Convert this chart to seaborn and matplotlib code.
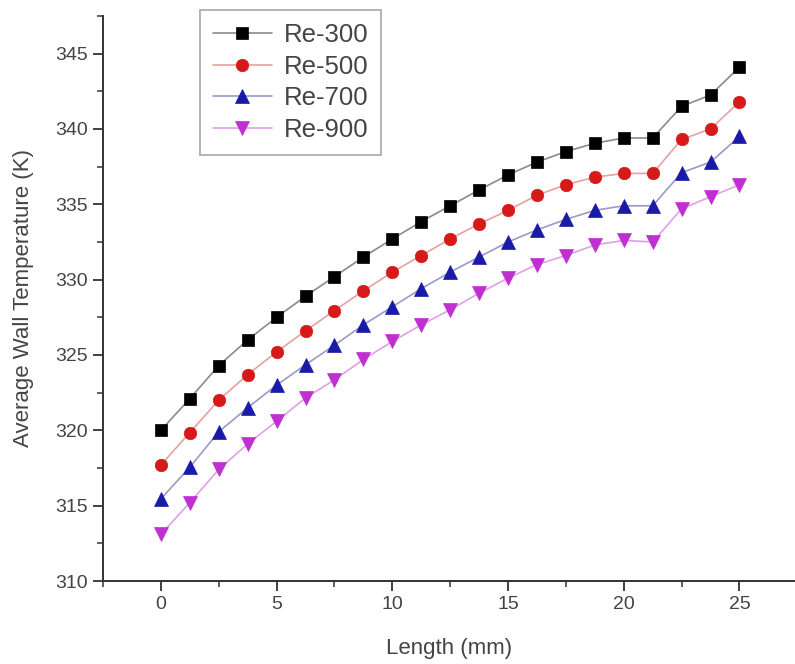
import pandas as pd
import numpy as np
import matplotlib
matplotlib.use('Agg')
import matplotlib.pyplot as plt
from matplotlib.ticker import MultipleLocator
import seaborn as sns

# Length positions (mm) along the channel
length_mm = [0, 1.25, 2.5, 3.75, 5, 6.25, 7.5, 8.75, 10, 11.25, 12.5,
             13.75, 15, 16.25, 17.5, 18.75, 20, 21.25, 22.5, 23.75, 25]

# Average wall temperature (K)
re_300 = [320.0, 322.1, 324.3, 326.0, 327.5, 328.9, 330.2, 331.5, 332.7, 333.85, 334.9,
          335.95, 336.95, 337.8, 338.5, 339.05, 339.4, 339.4, 341.5, 342.25, 344.1]
re_500 = [317.7, 319.85, 322.0, 323.7, 325.2, 326.6, 327.95, 329.25, 330.5, 331.6, 332.7,
          333.7, 334.6, 335.6, 336.3, 336.8, 337.05, 337.05, 339.3, 340.0, 341.8]
re_700 = [315.45, 317.55, 319.9, 321.5, 323.0, 324.35, 325.65, 327.0, 328.2, 329.4, 330.5,
          331.5, 332.5, 333.3, 334.0, 334.6, 334.9, 334.9, 337.1, 337.8, 339.5]
re_900 = [313.1, 315.2, 317.4, 319.1, 320.6, 322.15, 323.35, 324.7, 325.9, 327.0, 328.0,
          329.1, 330.1, 331.0, 331.6, 332.3, 332.6, 332.5, 334.7, 335.5, 336.3]

series_names = ['Re-300', 'Re-500', 'Re-700', 'Re-900']
series_values = [re_300, re_500, re_700, re_900]
marker_colors = ['#000000', '#d61a1a', '#1a1aa8', '#c030d0']
line_colors = ['#8a8a8a', '#e8a0a0', '#9a9ac8', '#e0a0e8']
markers = ['s', 'o', '^', 'v']
marker_sizes = [8, 9, 9.5, 9.5]

df = pd.DataFrame({'Length (mm)': length_mm})
for name, vals in zip(series_names, series_values):
    df[name] = vals

sns.set_theme(style='ticks')
plt.rcParams['font.family'] = ['Liberation Sans', 'DejaVu Sans']

fig = plt.figure(figsize=(7.95, 6.64), dpi=100)
ax = fig.add_axes([0.1296, 0.125, 0.8704, 0.851])

for name, mk, mc, lc, ms in zip(series_names, markers, marker_colors, line_colors, marker_sizes):
    sns.lineplot(data=df, x='Length (mm)', y=name, ax=ax, color=lc, linewidth=1.2,
                 marker=mk, markersize=ms, markerfacecolor=mc, markeredgecolor=mc,
                 markeredgewidth=0.5, label=name)

ax.set_xlim(-2.5, 27.4)
ax.set_ylim(310, 347.5)
ax.xaxis.set_major_locator(MultipleLocator(5))
ax.xaxis.set_minor_locator(MultipleLocator(2.5))
ax.yaxis.set_major_locator(MultipleLocator(5))
ax.yaxis.set_minor_locator(MultipleLocator(2.5))

text_color = '#444444'
ax.tick_params(which='major', direction='out', length=7, width=1.3, colors='#333333',
               labelcolor=text_color, labelsize=14, pad=4)
ax.tick_params(which='minor', direction='out', length=4.5, width=1.1, colors='#333333')
sns.despine(ax=ax)
for side in ['left', 'bottom']:
    ax.spines[side].set_color('#333333')
    ax.spines[side].set_linewidth(1.4)

ax.set_xlabel('Length (mm)', fontsize=16, color=text_color, labelpad=18)
ax.set_ylabel('Average Wall Temperature (K)', fontsize=16, color=text_color, labelpad=15)

leg = ax.legend(loc='upper left', bbox_to_anchor=(200 / 795, 1 - 10 / 664),
                bbox_transform=fig.transFigure, borderaxespad=0, fontsize=18.5,
                frameon=True, fancybox=False, handlelength=2.3, labelspacing=0.3,
                handletextpad=0.45, borderpad=0.5)
leg.get_frame().set_edgecolor('#999999')
leg.get_frame().set_linewidth(1.3)
for t in leg.get_texts():
    t.set_color(text_color)

fig.savefig('out.png', dpi=100)
